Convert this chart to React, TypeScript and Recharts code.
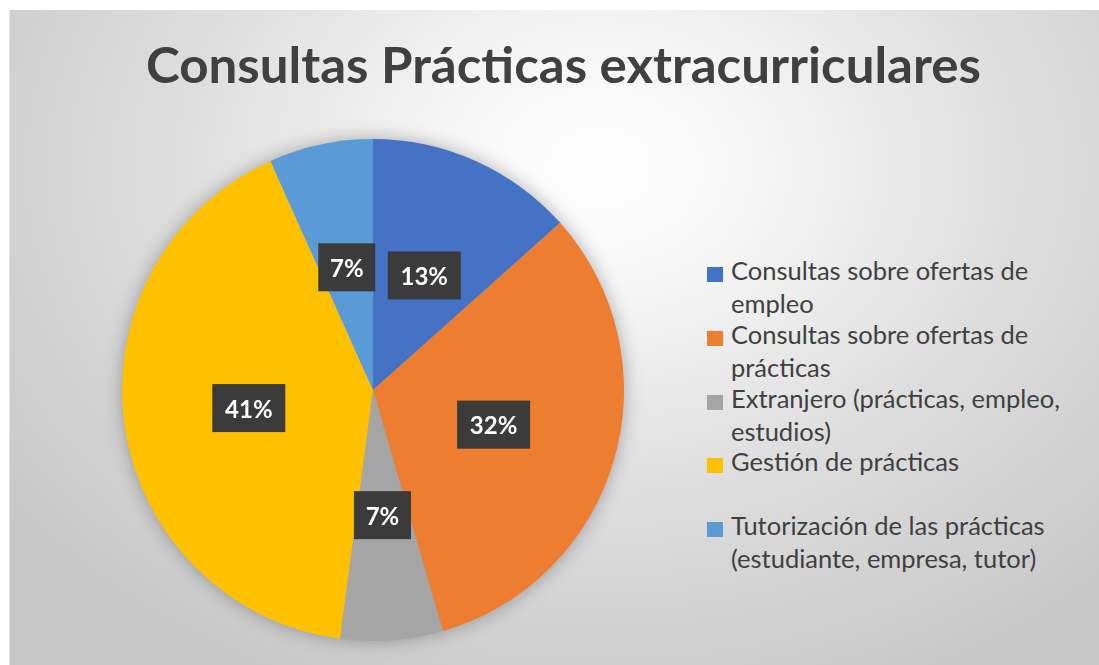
import React from "react"
import { PieChart, Pie, Cell } from "recharts"

const categories = [
  "Consultas sobre ofertas de empleo",
  "Consultas sobre ofertas de prácticas",
  "Extranjero (prácticas, empleo, estudios)",
  "Gestión de prácticas",
  "Tutorización de las prácticas (estudiante, empresa, tutor)",
]
const shares = [13.4, 32.1, 6.6, 41.2, 6.7]
const colors = ["#4472C4", "#ED7D31", "#A5A5A5", "#FFC000", "#5B9BD5"]
const legendLines = [
  ["Consultas sobre ofertas de", "empleo"],
  ["Consultas sobre ofertas de", "prácticas"],
  ["Extranjero (prácticas, empleo,", "estudios)"],
  ["Gestión de prácticas"],
  ["Tutorización de las prácticas", "(estudiante, empresa, tutor)"],
]
const title = "Consultas Prácticas extracurriculares"

const data = categories.map((name, i) => ({ name, value: shares[i] }))

const RAD = Math.PI / 180
const FONT = "Lato, 'Open Sans', sans-serif"

function renderLabel(props: any) {
  const { cx, cy, midAngle, outerRadius, percent } = props
  const r = outerRadius * 0.5
  const x = cx + r * Math.cos(-midAngle * RAD)
  const y = cy + r * Math.sin(-midAngle * RAD)
  const text = `${Math.round(percent * 100)}%`
  const w = text.length * 16 + 25
  const h = 48
  return (
    <g>
      <rect x={x - w / 2} y={y - h / 2} width={w} height={h} fill="#3b3b3b" />
      <text
        x={x}
        y={y}
        fill="#ffffff"
        textAnchor="middle"
        dominantBaseline="central"
        fontFamily={FONT}
        fontWeight={700}
        fontSize={24}
      >
        {text}
      </text>
    </g>
  )
}

export default function App() {
  return (
    <div style={{ position: "absolute", left: 0, top: 0, width: 1099, height: 665, background: "#fff", overflow: "hidden" }}>
      <div
        style={{
          position: "absolute",
          left: 9,
          top: 10,
          width: 1090,
          height: 655,
          borderLeft: "1px solid #e2e2e2",
          background:
            "radial-gradient(ellipse 70% 90% at 54% 24%, #ffffff 0%, #f5f5f5 22%, #dedede 55%, #c6c6c6 100%)",
        }}
      >
        <PieChart width={1090} height={655} style={{ filter: "drop-shadow(0 0 9px rgba(0,0,0,0.3))" }}>
          <Pie
            data={data}
            dataKey="value"
            nameKey="name"
            cx={358}
            cy={375}
            outerRadius={251}
            startAngle={90}
            endAngle={-270}
            stroke="none"
            labelLine={false}
            label={renderLabel}
            isAnimationActive={false}
          >
            {data.map((d, i) => (
              <Cell key={d.name} fill={colors[i]} />
            ))}
          </Pie>
        </PieChart>
        <svg width={1090} height={120} style={{ position: "absolute", left: 0, top: 0 }}>
          <text
            x={136}
            y={73}
            textLength={835}
            lengthAdjust="spacingAndGlyphs"
            fontFamily={FONT}
            fontWeight={700}
            fontSize={50}
            fill="#404040"
          >
            {title}
          </text>
        </svg>
        <div style={{ position: "absolute", left: 697, top: 244, fontFamily: FONT, fontSize: 25.5, color: "#404040" }}>
          {legendLines.map((lines, i) => (
            <div key={i} style={{ position: "relative", height: 63.75, lineHeight: "33px" }}>
              <div style={{ position: "absolute", left: 0, top: 13, width: 16, height: 15, background: colors[i] }} />
              <div style={{ marginLeft: 24, whiteSpace: "nowrap" }}>
                {lines.map((l, j) => (
                  <div key={j}>{l}</div>
                ))}
              </div>
            </div>
          ))}
        </div>
      </div>
    </div>
  )
}
